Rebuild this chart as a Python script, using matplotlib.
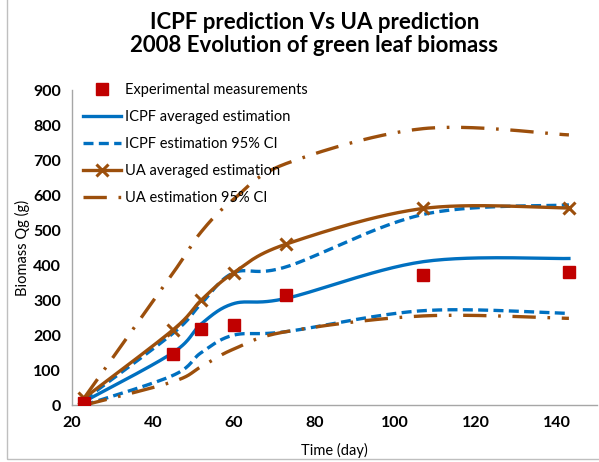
import numpy as np
import matplotlib.pyplot as plt
from matplotlib.patches import Rectangle

# --- Data ---
days = [23, 45, 52, 60, 73, 107, 143]
measured = [6, 146, 218, 229, 314, 371, 379]
icpf_mean = [10, 150, 232, 290, 305, 410, 419]
icpf_hi = [15, 205, 290, 378, 395, 545, 572]
icpf_lo = [0, 85, 150, 200, 210, 270, 262]
ua_mean = [20, 215, 300, 378, 460, 562, 563]
ua_hi = [20, 377, 495, 588, 690, 790, 772]
ua_lo = [0, 67, 110, 160, 210, 255, 248]

BLUE = '#0070C0'
BROWN = '#9C4F0C'
RED = '#C00000'


def excel_smooth(x, y, n=30):
    """Bezier smoothing similar to Excel's 'smoothed line'."""
    x = np.asarray(x, float)
    y = np.asarray(y, float)
    px = np.concatenate([[x[0]], x, [x[-1]]])
    py = np.concatenate([[y[0]], y, [y[-1]]])
    xs, ys = [], []
    t = np.linspace(0, 1, n)
    for i in range(1, len(px) - 2):
        p0 = np.array([px[i], py[i]])
        p3 = np.array([px[i + 1], py[i + 1]])
        c1 = p0 + (p3 - np.array([px[i - 1], py[i - 1]])) / 6
        c2 = p3 - (np.array([px[i + 2], py[i + 2]]) - p0) / 6
        b = ((1 - t) ** 3)[:, None] * p0 + (3 * (1 - t) ** 2 * t)[:, None] * c1 \
            + (3 * (1 - t) * t ** 2)[:, None] * c2 + (t ** 3)[:, None] * p3
        xs.extend(b[:, 0])
        ys.extend(b[:, 1])
    return np.array(xs), np.array(ys)


plt.rcParams['font.family'] = ['Lato', 'DejaVu Sans']

fig = plt.figure(figsize=(5.99, 4.62), dpi=100)
ax = fig.add_axes([0.120, 0.123, 0.877, 0.682])

lw = 2.4
sx, sy = excel_smooth(days, icpf_mean)
ax.plot(sx, sy, color=BLUE, lw=lw, zorder=3)
sx, sy = excel_smooth(days, icpf_hi)
ax.plot(sx, sy, color=BLUE, lw=lw, dashes=(3, 1.6), zorder=3)
sx, sy = excel_smooth(days, icpf_lo)
ax.plot(sx, sy, color=BLUE, lw=lw, dashes=(3, 1.6), zorder=3)

sx, sy = excel_smooth(days, ua_mean)
ax.plot(sx, sy, color=BROWN, lw=lw, zorder=4)
ax.plot(days, ua_mean, ls='none', marker='x', ms=8, mew=2.2, color=BROWN, zorder=4)
sx, sy = excel_smooth(days, ua_hi)
ax.plot(sx, sy, color=BROWN, lw=lw, dashes=(7, 3.5, 0.8, 3.5), zorder=4)
sx, sy = excel_smooth(days, ua_lo)
ax.plot(sx, sy, color=BROWN, lw=lw, dashes=(7, 3.5, 0.8, 3.5), zorder=4)

ax.plot(days, measured, ls='none', marker='s', ms=8, color=RED, zorder=5)

# legend handles
h_meas = plt.Line2D([], [], ls='none', marker='s', ms=8, color=RED)
h_im = plt.Line2D([], [], color=BLUE, lw=lw)
h_ici = plt.Line2D([], [], color=BLUE, lw=lw, dashes=(3, 1.6))
h_um = plt.Line2D([], [], color=BROWN, lw=lw, marker='x', ms=8, mew=2.2)
h_uci = plt.Line2D([], [], color=BROWN, lw=lw, dashes=(7, 3.5, 0.8, 3.5))
leg = ax.legend([h_meas, h_im, h_ici, h_um, h_uci],
                ['Experimental measurements', 'ICPF averaged estimation',
                 'ICPF estimation 95% CI', 'UA averaged estimation',
                 'UA estimation 95% CI'],
                loc='upper left', bbox_to_anchor=(0.01, 1.04), frameon=False,
                fontsize=10.5, handlelength=2.6, handletextpad=0.25,
                labelspacing=0.88, borderaxespad=0)

ax.set_xlim(20, 150)
ax.set_ylim(0, 900)
ax.set_xticks([20, 40, 60, 80, 100, 120, 140])
ax.set_yticks(range(0, 901, 100))
ax.tick_params(length=0, labelsize=11.5, pad=8)
for lab in ax.get_xticklabels() + ax.get_yticklabels():
    lab.set_fontweight('bold')
for s in ['top', 'right']:
    ax.spines[s].set_visible(False)
for s in ['left', 'bottom']:
    ax.spines[s].set_color('#A6A6A6')
    ax.spines[s].set_linewidth(1)

ax.set_xlabel('Time (day)', fontsize=10.5, labelpad=9)
ax.set_ylabel('Biomass Qg (g)', fontsize=10.5, labelpad=2)

fig.text(0.525, 0.975, 'ICPF prediction Vs UA prediction\n2008 Evolution of green leaf biomass',
         ha='center', va='top', fontsize=16, fontweight='bold', linespacing=1.15)

fig.patches.append(Rectangle((0.012, 0.006), 0.99, 1.0, transform=fig.transFigure,
                             fill=False, ec='#BFBFBF', lw=1))

fig.savefig('out.png', dpi=100)
